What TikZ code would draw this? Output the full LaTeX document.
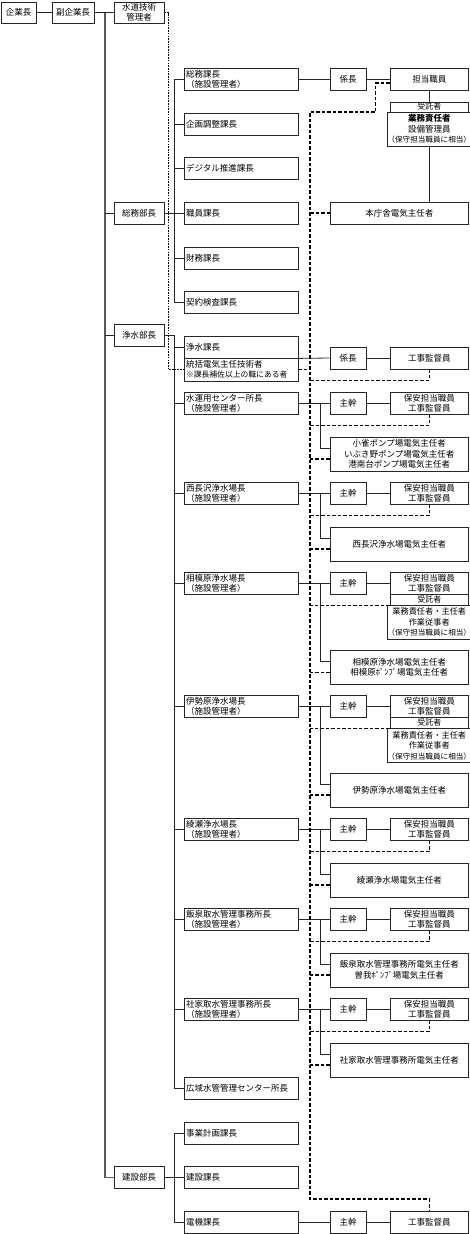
\documentclass[tikz,border=0pt]{standalone}
\usepackage{fontspec}
\setmainfont{Noto Sans CJK JP}
\usetikzlibrary{calc}
\newcommand\facgrp[3]{%
  \node[sec] (f#1) at (241,#2) {#3\\（施設管理者）};
  \node[sm] (m#1) at (348,#2) {主幹};
  \node[rb] (h#1) at (429.25,#2) {保安担当職員\\工事監督員};
  \draw[ln] (f#1.east) -- (m#1.west);
  \draw[ln] (m#1.east) -- (h#1.west);
  \draw[ln] (f#1.west) -- (sb |- f#1.west);
}
\newcommand\elecgrp[3]{%
  \node[eb] (e#1) at (399.25,#2) {#3};
  \draw[ln] (f#1.east -| xj) |- ([yshift=6pt]e#1.west);
  \draw[dsh] ([yshift=-5pt]e#1.west) -- ++(-20,0);
}
\newcommand\hdash[1]{%
  \draw[dsh] (h#1.south) -- ++(0,11) coordinate (hd#1) -- (hd#1 -| xd);
}
\newcommand\jutgrp[2]{%
  \node[rb, minimum height=11pt, text height=6.5pt, text depth=1pt, font=\fontsize{8}{9}\selectfont] (j#1a) at (429.25,#2+5.5) {受託者};
  \node[rb, minimum height=34pt, font=\fontsize{8.2}{10.5}\selectfont] (j#1b) at (429.25,#2+28) {業務責任者・主任者\\作業従事者\\{\fontsize{7.6}{10.5}\selectfont （保守担当職員に相当）}};
  \draw[dsh] (j#1a.south west) -- (xd |- j#1a.south west);
}
\begin{document}
\begin{tikzpicture}[x=1pt,y=-1pt,
  bx/.style={draw=black!85, line width=0.8pt, inner sep=0pt, font=\fontsize{8.5}{10}\selectfont, align=center},
  sec/.style={bx, text width=110pt, inner xsep=2pt, align=left, minimum height=22pt},
  dept/.style={bx, minimum width=50pt, minimum height=22pt},
  sm/.style={bx, minimum width=36pt, minimum height=22pt},
  rb/.style={bx, minimum width=78.5pt, minimum height=22pt},
  eb/.style={bx, minimum width=138.5pt, minimum height=34pt, font=\fontsize{8.5}{10.5}\selectfont},
  ln/.style={draw=black!85, line width=0.8pt},
  mainln/.style={draw=black!65, line width=1.3pt},
  dsh/.style={draw=black, line width=1.1pt, dash pattern=on 3.5pt off 2pt},
  dotl/.style={draw=black, line width=1.1pt, dash pattern=on 1.6pt off 1.1pt}
]
\useasboundingbox (0,0) rectangle (469,1234);
\fill[white] (0,0) rectangle (469,1234);
\coordinate (sb) at (174,0);
\coordinate (xd) at (310,0);
\coordinate (xj) at (320,0);
\coordinate (dtop) at (310,112);
\coordinate (dbot) at (310,1199);

% top row
\node[bx, minimum width=35pt, minimum height=21pt] (ceo) at (18.5,12.5) {企業長};
\node[bx, minimum width=42pt, minimum height=21pt] (vce) at (73,12.5) {副企業長};
\node[bx, minimum width=50pt, minimum height=21pt, font=\fontsize{8.5}{9.5}\selectfont] (wtm) at (139,12.5) {水道技術\\管理者};
\coordinate (mb) at (105,12.5);
\draw[ln] (ceo) -- (vce);
\draw[ln] (vce) -- (wtm);

% departments
\node[dept] (gad) at (139,213) {総務部長};
\node[dept] (pur) at (139,335.5) {浄水部長};
\node[dept] (con) at (139,1177.5) {建設部長};
\draw[mainln] (mb) |- (con.west);
\draw[ln] (mb |- gad.west) -- (gad.west);
\draw[ln] (mb |- pur.west) -- (pur.west);

% general affairs sections
\node[sec] (s1) at (241,79) {総務課長\\（施設管理者）};
\node[sec] (s2) at (241,124) {企画調整課長};
\node[sec] (s3) at (241,168) {デジタル推進課長};
\node[sec] (s4) at (241,213) {職員課長};
\node[sec] (s5) at (241,258) {財務課長};
\node[sec] (s6) at (241,302) {契約検査課長};
\draw[ln] (gad.east) -- (sb |- gad.east);
\draw[ln] (s1.west) -| (sb |- s6.west) -- (s6.west);
\foreach \n in {s2,s3,s4,s5} \draw[ln] (\n.west) -- (sb |- \n.west);

\node[sm] (k1) at (348,79) {係長};
\node[rb] (t1) at (429.25,79) {担当職員};
\node[rb, minimum height=10pt, text height=6.5pt, text depth=1pt, font=\fontsize{8}{9}\selectfont] (u1a) at (429.25,107) {受託者};
\node[rb, minimum height=34pt, font=\fontsize{8.5}{10.5}\selectfont] (u1b) at (429.25,129) {\textbf{業務責任者}\\設備管理員\\{\fontsize{7.6}{10.5}\selectfont （保守担当職員に相当）}};
\node[eb, minimum height=22pt] (hon) at (399.25,213) {本庁舎電気主任者};
\draw[ln] (s1.east) -- (k1.west);
\draw[ln] (k1.east) -- (t1.west);
\draw[ln] (t1.south) -- (u1a.north);
\draw[ln] (u1b.south) -- (u1b.south |- hon.north);
\draw[dsh] (xd |- hon.west) -- (hon.west);

% water purification
\node[sec] (josA) at (241,347) {浄水課長};
\node[sec, minimum height=23pt] (josB) at (241,369.5) {統括電気主任技術者\\{\fontsize{7.8}{10}\selectfont ※課長補佐以上の職にある者}};
\node[sm] (k2) at (348,358) {係長};
\node[rb] (kan1) at (429.25,358) {工事監督員};
\draw[ln] (josA.south east) -- (k2.west);
\draw[ln] (k2.east) -- (kan1.west);
\draw[dsh] (josB.east) -- (xd |- josB.east);
\draw[dsh] (kan1.south) -- ++(0,11) coordinate (kd1) -- (kd1 -| xd);
\draw[dotl] (wtm.east) -- ++(4,0) |- (josB.west);

\node[sec] (kw) at (241,1088.5) {広域水管管理センター所長};
\draw[ln] (pur.east) -| (sb |- kw.west) -- (kw.west);
\draw[ln] (josA.west) -- (sb |- josA.west);

\facgrp{1}{403}{水運用センター所長}
\hdash{1}
\elecgrp{1}{454}{小雀ポンプ場電気主任者\\いぶき野ポンプ場電気主任者\\港南台ポンプ場電気主任者}

\facgrp{2}{493}{西長沢浄水場長}
\hdash{2}
\elecgrp{2}{544}{西長沢浄水場電気主任者}

\facgrp{3}{583}{相模原浄水場長}
\jutgrp{3}{594}
\elecgrp{3}{667.5}{相模原浄水場電気主任者\\相模原ﾎﾟﾝﾌﾟ場電気主任者}

\facgrp{4}{706.5}{伊勢原浄水場長}
\jutgrp{4}{717.5}
\elecgrp{4}{790}{伊勢原浄水場電気主任者}

\facgrp{5}{829.5}{綾瀬浄水場長}
\hdash{5}
\elecgrp{5}{880}{綾瀬浄水場電気主任者}

\facgrp{6}{919.5}{飯泉取水管理事務所長}
\hdash{6}
\elecgrp{6}{970}{飯泉取水管理事務所電気主任者\\曽我ﾎﾟﾝﾌﾟ場電気主任者}

\facgrp{7}{1009}{社家取水管理事務所長}
\hdash{7}
\elecgrp{7}{1060}{社家取水管理事務所電気主任者}

% construction
\node[sec] (c1) at (241,1133) {事業計画課長};
\node[sec] (c2) at (241,1177.5) {建設課長};
\node[sec] (c3) at (241,1222) {電機課長};
\node[sm] (m8) at (348,1222) {主幹};
\node[rb] (kan3) at (429.25,1222) {工事監督員};
\draw[ln] (con.east) -- (sb |- con.east);
\draw[ln] (c1.west) -| (sb |- c3.west) -- (c3.west);
\draw[ln] (c2.west) -- (sb |- c2.west);
\draw[ln] (c3.east) -- (m8.west);
\draw[ln] (m8.east) -- (kan3.west);

% main dashed line
\draw[dsh] ([yshift=-4pt]t1.west) -- ++(-14,0) |- (dtop) -- (dbot) -| (kan3.north);
\end{tikzpicture}
\end{document}
